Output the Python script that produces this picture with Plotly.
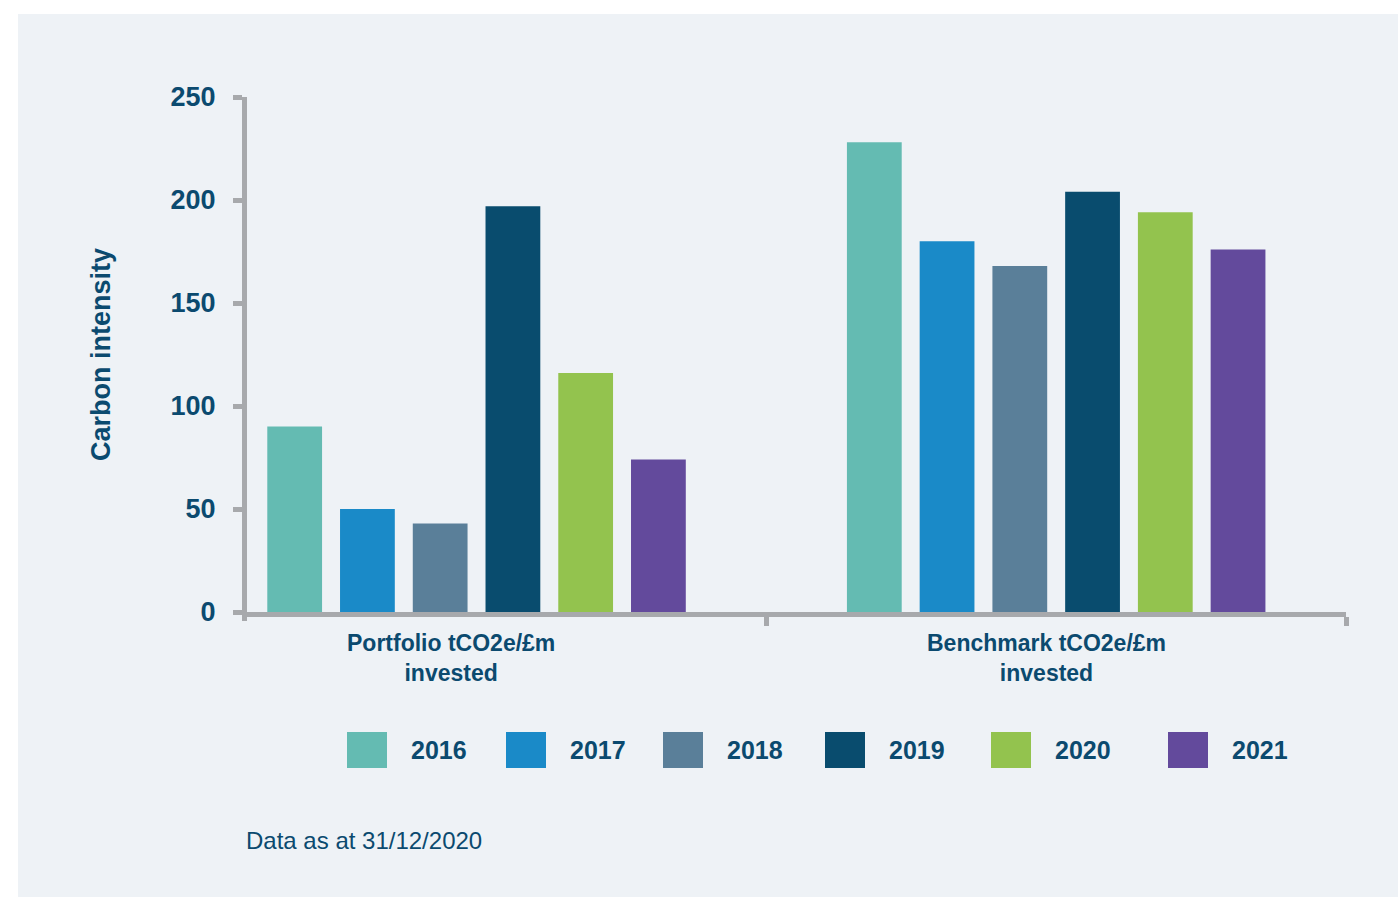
import plotly.graph_objects as go

# ---- data -------------------------------------------------------------
years = ["2016", "2017", "2018", "2019", "2020", "2021"]
groups = ["Portfolio tCO2e/£m<br>invested", "Benchmark tCO2e/£m<br>invested"]
portfolio = [90, 50, 43, 197, 116, 74]
benchmark = [228, 180, 168, 204, 194, 176]
y_ticks = [0, 50, 100, 150, 200, 250]

# ---- styling ------------------------------------------------------------
colors = ["#64BBB2", "#1A8AC8", "#5A7F99", "#094C6E", "#93C34E", "#634A9C"]
TEXT = "#0B4A6F"
AXIS = "#A7A9AC"
PANEL = "#EEF2F6"
FONT = "Liberation Sans, Arial, sans-serif"

W, H = 1398, 897
L, R, T, B = 247, 1346, 97, 612          # plot-area edges in pixels


def px_x(x):
    return (x - L) / (R - L)


def px_y(y):
    return (B - y) / (B - T)


fig = go.Figure()
for i, year in enumerate(years):
    fig.add_trace(go.Bar(
        x=groups,
        y=[portfolio[i], benchmark[i]],
        name=year,
        marker=dict(color=colors[i], line=dict(width=0)),
        showlegend=False,
    ))

shapes = [
    # light panel behind the chart
    dict(type="rect", xref="paper", yref="paper", layer="below",
         x0=px_x(18), x1=px_x(1398), y0=px_y(897), y1=px_y(14),
         fillcolor=PANEL, line=dict(width=0)),
    # left end tick of the category axis
    dict(type="line", xref="paper", yref="paper",
         x0=px_x(244.5), x1=px_x(244.5), y0=px_y(612), y1=px_y(621),
         line=dict(color=AXIS, width=5)),
]

annotations = []
# category labels under each group
label_shift = [-26, -10]
for g, shift in zip(groups, label_shift):
    annotations.append(dict(
        x=g, xref="x", y=0, yref="paper", yanchor="top", xanchor="center",
        yshift=-16, xshift=shift, text=g, showarrow=False, align="center",
        font=dict(family=FONT, size=23, color=TEXT, weight="bold"),
    ))

# legend: coloured swatches followed by the year
legend_left_px = [347, 506, 663, 825, 991, 1168]
for year, col, lx in zip(years, colors, legend_left_px):
    shapes.append(dict(
        type="rect", xref="paper", yref="paper",
        x0=px_x(lx), x1=px_x(lx + 40), y0=px_y(768), y1=px_y(732),
        fillcolor=col, line=dict(width=0),
    ))
    annotations.append(dict(
        x=px_x(lx + 62), xref="paper", y=px_y(750), yref="paper",
        xanchor="left", yanchor="middle", text=year, showarrow=False,
        font=dict(family=FONT, size=25, color=TEXT, weight="bold"),
    ))

# footnote
annotations.append(dict(
    x=px_x(244), xref="paper", y=px_y(840), yref="paper",
    xanchor="left", yanchor="middle", text="Data as at 31/12/2020",
    showarrow=False, font=dict(family=FONT, size=24, color=TEXT),
))

fig.update_layout(
    width=W, height=H,
    margin=dict(l=L, r=W - R, t=T, b=H - B, pad=0),
    paper_bgcolor="white",
    plot_bgcolor="rgba(0,0,0,0)",
    barmode="group",
    bargap=0.247,
    bargroupgap=0.247,
    showlegend=False,
    shapes=shapes,
    annotations=annotations,
    xaxis=dict(
        type="category",
        range=[-0.396, 1.5],
        tickson="boundaries",
        ticks="outside", ticklen=9, tickwidth=5, tickcolor=AXIS,
        showline=True, linewidth=5, linecolor=AXIS,
        showgrid=False, zeroline=False, showticklabels=False,
        fixedrange=True,
    ),
    yaxis=dict(
        range=[0, 250],
        tickvals=y_ticks,
        ticks="outside", ticklen=9, tickwidth=5, tickcolor=AXIS,
        ticklabelstandoff=12,
        showline=True, linewidth=5, linecolor=AXIS,
        showgrid=False, zeroline=False,
        tickfont=dict(family=FONT, size=27, color=TEXT, weight="bold"),
        title=dict(text="Carbon intensity", standoff=54,
                   font=dict(family=FONT, size=27, color=TEXT, weight="bold")),
        fixedrange=True,
    ),
)

fig.write_html("out.html")
